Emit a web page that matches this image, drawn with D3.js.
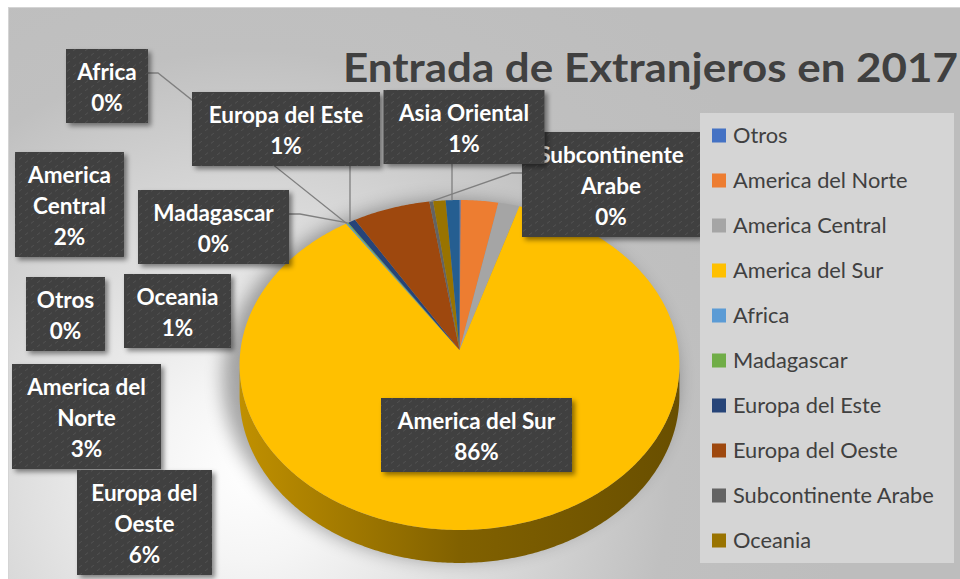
<!DOCTYPE html>
<html>
<head>
<meta charset="utf-8">
<script src="https://cdnjs.cloudflare.com/ajax/libs/d3/7.8.5/d3.min.js"></script>
<style>
  body { margin: 0; background: #fff; }
  svg { display: block; font-family: Lato, "Open Sans", sans-serif; }
  .leader { fill: none; stroke: #7f7f7f; stroke-width: 1.3; }
  .lbl text { fill: #fff; font-weight: bold; font-size: 22.5px; text-anchor: middle; }
  .legend text { fill: #404040; font-size: 21.8px; }
</style>
</head>
<body>
<div id="chart"></div>
<script>
'use strict'
// values (share of entries, %)
let categories = ["Otros", "America del Norte", "America Central", "America del Sur", "Africa",
  "Madagascar", "Europa del Este", "Europa del Oeste", "Subcontinente Arabe", "Oceania", "Asia Oriental"]
let shares = [0.1, 3.0, 1.7, 85.8, 0.1, 0.1, 0.6, 6.2, 0.3, 1.0, 1.1]
let colors = ["#4472C4", "#ED7D31", "#A5A5A5", "#FFC000", "#5B9BD5", "#70AD47",
  "#264478", "#9E480E", "#636363", "#997300", "#255E91"]
let legendCount = 10   // legend is cut off after Oceania
let title = "Entrada de Extranjeros en 2017"

// where excel put the data labels
let labelLayout = {
  "Africa":              {cx: 107,   top: 49,  w: 82,  lines: ["Africa"], leader: [[148, 73], [158, 73]]},
  "Europa del Este":     {cx: 286,   top: 92,  w: 188, lines: ["Europa del Este"], leader: [[350, 166]]},
  "Asia Oriental":       {cx: 464,   top: 90,  w: 161, lines: ["Asia Oriental"], leader: [[452, 163]]},
  "Subcontinente Arabe": {cx: 611,   top: 132, w: 178, lines: ["Subcontinente", "Arabe"], leader: [[522, 173], [512, 173]]},
  "America Central":     {cx: 69.5,  top: 152, w: 109, lines: ["America", "Central"]},
  "Madagascar":          {cx: 213.5, top: 190, w: 151, lines: ["Madagascar"], leader: [[289, 214], [300, 214]]},
  "Otros":               {cx: 65.5,  top: 277, w: 79,  lines: ["Otros"]},
  "Oceania":             {cx: 177.5, top: 274, w: 107, lines: ["Oceania"]},
  "America del Norte":   {cx: 86.5,  top: 364, w: 149, lines: ["America del", "Norte"]},
  "Europa del Oeste":    {cx: 144.5, top: 470, w: 135, lines: ["Europa del", "Oeste"]},
  "America del Sur":     {cx: 476.5, top: 398, w: 191, lines: ["America del Sur"]}
}

let W = 960, H = 579
let data = categories.map(function(c, i) { return {name: c, v: shares[i], color: colors[i]} })

let svg = d3.select('#chart').append('svg').attr('width', W).attr('height', H)
let defs = svg.append('defs')

let bg = defs.append('radialGradient').attr('id', 'bg')
  .attr('gradientUnits', 'userSpaceOnUse').attr('cx', 250).attr('cy', 470).attr('r', 600)
bg.append('stop').attr('offset', 0).attr('stop-color', '#ffffff')
bg.append('stop').attr('offset', 0.15).attr('stop-color', '#f5f5f5')
bg.append('stop').attr('offset', 0.7).attr('stop-color', '#c0c0c0')
bg.append('stop').attr('offset', 1).attr('stop-color', '#bdbdbd')

let pat = defs.append('pattern').attr('id', 'tex').attr('patternUnits', 'userSpaceOnUse')
  .attr('width', 12).attr('height', 8)
pat.append('rect').attr('width', 12).attr('height', 8).attr('fill', '#3f3f3f')
pat.append('line').attr('x1', 1).attr('y1', 3).attr('x2', 4).attr('y2', 0.5)
  .attr('stroke', '#535353').attr('stroke-width', 0.9)
pat.append('line').attr('x1', 7).attr('y1', 7.5).attr('x2', 10).attr('y2', 5)
  .attr('stroke', '#535353').attr('stroke-width', 0.9)

let shadow = defs.append('filter').attr('id', 'boxShadow').attr('x', -0.2).attr('y', -0.2)
  .attr('width', 1.5).attr('height', 1.5)
shadow.append('feDropShadow').attr('dx', 3).attr('dy', 3).attr('stdDeviation', 2.5)
  .attr('flood-color', '#000').attr('flood-opacity', 0.45)

let blur = defs.append('filter').attr('id', 'pieBlur').attr('x', -0.3).attr('y', -0.3)
  .attr('width', 1.6).attr('height', 1.6)
blur.append('feGaussianBlur').attr('stdDeviation', 9)

// chart area
svg.append('rect').attr('x', 8.5).attr('y', 7.5).attr('width', W).attr('height', H)
  .attr('fill', 'url(#bg)').attr('stroke', '#d4d4d4')

svg.append('text').attr('x', 343).attr('y', 82)
  .attr('fill', '#404040').attr('font-weight', 'bold').attr('font-size', 41)
  .attr('textLength', 615).attr('lengthAdjust', 'spacingAndGlyphs')
  .text(title)

// 3d pie: circle tilted with a bit of perspective
let pc = {cx: 459.5, cy: 350, rx: 219, a: 163.6, b: 0.0909, depth: 30}
function proj(theta, drop) {
  let xn = Math.sin(theta), zn = -Math.cos(theta)
  let w = 1 - pc.b * zn
  return [pc.cx + pc.rx * xn / w, pc.cy + pc.a * zn / w + (drop ? pc.depth / w : 0)]
}
function arcPts(t0, t1, drop) {
  let n = Math.max(2, Math.ceil((t1 - t0) / 0.01))
  return d3.range(n + 1).map(function(k) { return proj(t0 + (t1 - t0) * k / n, drop) })
}
let line = d3.line()

let arcs = d3.pie().sort(null).value(function(d) { return d.v })(data)

let pieG = svg.append('g')

// soft shadow under the pie
pieG.append('ellipse').attr('cx', pc.cx - 10).attr('cy', pc.cy + 30).attr('rx', pc.rx + 8).attr('ry', 180)
  .attr('fill', '#000').attr('opacity', 0.33).attr('filter', 'url(#pieBlur)')

// sides (front half only)
let front0 = Math.acos(-pc.b), front1 = 2 * Math.PI - Math.acos(-pc.b)
arcs.forEach(function(d, i) {
  let t0 = Math.max(d.startAngle, front0), t1 = Math.min(d.endAngle, front1)
  if (t1 <= t0) return
  let c = d3.color(d.data.color)
  let g = defs.append('linearGradient').attr('id', 'side' + i)
    .attr('gradientUnits', 'userSpaceOnUse').attr('x1', pc.cx - pc.rx).attr('x2', pc.cx + pc.rx)
    .attr('y1', 0).attr('y2', 0)
  g.append('stop').attr('offset', 0).attr('stop-color', c.darker(0.8))
  g.append('stop').attr('offset', 0.5).attr('stop-color', c.darker(1.9))
  g.append('stop').attr('offset', 1).attr('stop-color', c.darker(2.5))
  let pts = arcPts(t0, t1, false).concat(arcPts(t0, t1, true).reverse())
  pieG.append('path').attr('d', line(pts) + 'Z').attr('fill', 'url(#side' + i + ')')
})

// top faces
pieG.selectAll('.slice').data(arcs).enter().append('path')
  .attr('class', 'slice')
  .attr('d', function(d) {
    return line([[pc.cx, pc.cy]].concat(arcPts(d.startAngle, d.endAngle, false))) + 'Z'
  })
  .attr('fill', function(d) { return d.data.color })

// leader lines
arcs.forEach(function(d) {
  let lay = labelLayout[d.data.name]
  if (!lay || !lay.leader) return
  let mid = (d.startAngle + d.endAngle) / 2
  let end = proj(mid, false)
  let pts = lay.leader.slice()
  if (pts.length === 1) pts.push([pts[0][0], end[1]])
  else pts.push(end)
  svg.append('path').attr('class', 'leader').attr('d', line(pts))
})

// data labels
let lineH = 31
arcs.forEach(function(d) {
  let lay = labelLayout[d.data.name]
  if (!lay) return
  let pct = Math.round(d.data.v) + '%'
  let lines = lay.lines.concat([pct])
  let h = lineH * lines.length + 12
  let g = svg.append('g').attr('class', 'lbl')
  g.append('rect').attr('x', lay.cx - lay.w / 2).attr('y', lay.top)
    .attr('width', lay.w).attr('height', h)
    .attr('fill', 'url(#tex)').attr('filter', 'url(#boxShadow)')
  lines.forEach(function(t, k) {
    g.append('text').attr('x', lay.cx).attr('y', lay.top + 31 + lineH * k).text(t)
  })
})

// legend
let legend = svg.append('g').attr('class', 'legend')
legend.append('rect').attr('x', 700).attr('y', 113).attr('width', 254).attr('height', 450)
  .attr('fill', '#d5d5d5')
let yL = d3.scaleBand().domain(categories.slice(0, legendCount)).range([113, 563])
let items = legend.selectAll('.item').data(data.slice(0, legendCount)).enter().append('g')
  .attr('class', 'item')
  .attr('transform', function(d) { return 'translate(712,' + (yL(d.name) + yL.bandwidth() / 2) + ')' })
items.append('rect').attr('x', 0).attr('y', -7).attr('width', 14).attr('height', 14)
  .attr('fill', function(d) { return d.color })
items.append('text').attr('x', 21).attr('y', 7.5).text(function(d) { return d.name })
</script>
</body>
</html>
